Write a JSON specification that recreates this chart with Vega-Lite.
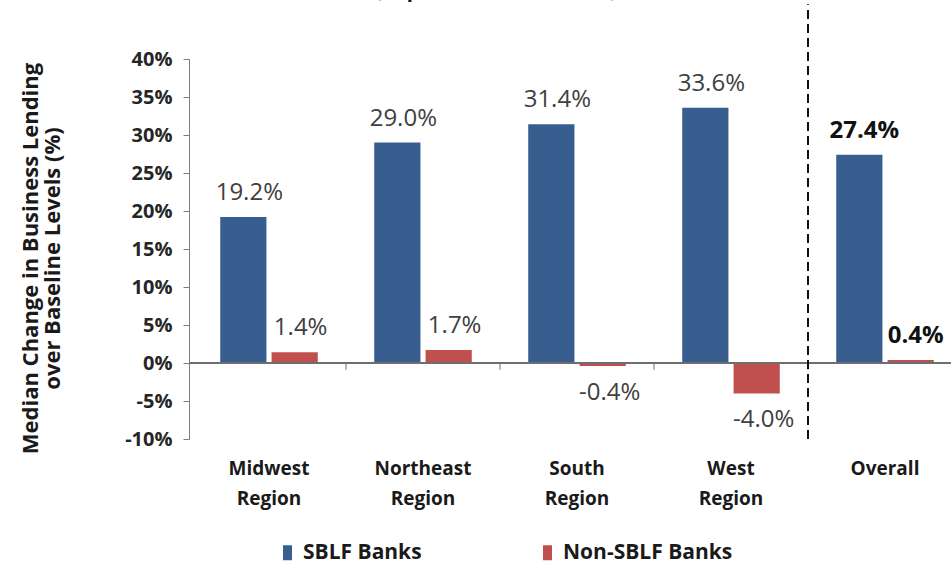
{
  "$schema": "https://vega.github.io/schema/vega-lite/v6.json",
  "autosize": {"type": "none"},
  "padding": {"left": 189, "top": 59, "right": 0, "bottom": 126},
  "width": 762,
  "height": 380,
  "background": "white",
  "title": {
    "text": "(Reported as of 4Q 2011)",
    "fontSize": 20,
    "fontWeight": "bold",
    "font": "Open Sans",
    "color": "#111111",
    "anchor": "middle",
    "dx": -74,
    "offset": 2
  },
  "config": {
    "view": {"stroke": null},
    "font": "Open Sans"
  },
  "data": {
    "values": [
      {"region": "Midwest Region", "series": "SBLF Banks", "value": 19.2},
      {"region": "Midwest Region", "series": "Non-SBLF Banks", "value": 1.4},
      {"region": "Northeast Region", "series": "SBLF Banks", "value": 29.0},
      {"region": "Northeast Region", "series": "Non-SBLF Banks", "value": 1.7},
      {"region": "South Region", "series": "SBLF Banks", "value": 31.4},
      {"region": "South Region", "series": "Non-SBLF Banks", "value": -0.4},
      {"region": "West Region", "series": "SBLF Banks", "value": 33.6},
      {"region": "West Region", "series": "Non-SBLF Banks", "value": -4.0},
      {"region": "Overall", "series": "SBLF Banks", "value": 27.4},
      {"region": "Overall", "series": "Non-SBLF Banks", "value": 0.4}
    ]
  },
  "transform": [
    {"calculate": "replace(format(datum.value, '.1f'), '\u2212', '-') + '%'", "as": "lbl"}
  ],
  "encoding": {
    "x": {
      "field": "region",
      "type": "nominal",
      "sort": null,
      "scale": {"range": [3, 773], "paddingInner": 0, "paddingOuter": 0},
      "axis": {
        "title": null,
        "domain": false,
        "ticks": false,
        "labelAngle": 0,
        "labelExpr": "split(datum.label, ' ')",
        "labelFontSize": 19,
        "labelFontWeight": "bold",
        "labelColor": "#1a1a1a",
        "labelLineHeight": 30,
        "labelPadding": 20
      }
    },
    "y": {
      "field": "value",
      "type": "quantitative",
      "scale": {"domain": [-10, 40], "nice": false, "zero": false},
      "axis": {
        "values": [-10, -5, 0, 5, 10, 15, 20, 25, 30, 35, 40],
        "tickCount": 11,
        "labelExpr": "datum.value + '%'",
        "labelOverlap": false,
        "grid": false,
        "domainColor": "#7f7f7f",
        "tickColor": "#7f7f7f",
        "tickSize": 6,
        "labelFontSize": 20,
        "labelFontWeight": "bold",
        "labelColor": "#262626",
        "labelPadding": 11,
        "title": ["Median Change in Business Lending", "over Baseline Levels (%)"],
        "titleFontSize": 22,
        "titleFontWeight": "bold",
        "titleColor": "#1a1a1a",
        "titleLineHeight": 22,
        "titlePadding": 60,
        "titleY": 199
      }
    },
    "xOffset": {
      "field": "series",
      "type": "nominal",
      "sort": ["SBLF Banks", "Non-SBLF Banks"],
      "scale": {"paddingInner": 0.1, "paddingOuter": 0.55}
    }
  },
  "layer": [
    {
      "mark": {"type": "bar"},
      "encoding": {
        "color": {
          "field": "series",
          "type": "nominal",
          "scale": {"domain": ["SBLF Banks", "Non-SBLF Banks"], "range": ["#375E8F", "#C0504D"]},
          "legend": {
            "title": null,
            "orient": "none",
            "direction": "horizontal",
            "legendX": 88,
            "legendY": 483,
            "padding": 0,
            "symbolType": "M-0.6,-1H0.6V1H-0.6Z",
            "symbolSize": 225,
            "symbolStrokeWidth": 0,
            "labelFontSize": 21,
            "labelFontWeight": "bold",
            "labelColor": "#1a1a1a",
            "labelOffset": 5,
            "labelLimit": 400,
            "columnPadding": 115
          }
        }
      }
    },
    {
      "mark": {"type": "rule", "color": "#6f6f6f", "strokeWidth": 1},
      "encoding": {
        "x": null,
        "xOffset": null,
        "y": {"datum": 0}
      }
    },
    {
      "transform": [
        {"filter": "datum.series == 'SBLF Banks' && datum.region != 'Midwest Region'"}
      ],
      "mark": {"type": "rule", "color": "#6f6f6f", "strokeWidth": 1},
      "encoding": {
        "x": {"field": "region", "type": "nominal", "sort": null, "bandPosition": 0},
        "xOffset": null,
        "y": {"datum": 0},
        "y2": {"datum": -0.9}
      }
    },
    {
      "transform": [
        {"filter": "datum.series == 'SBLF Banks' && datum.region == 'Overall'"}
      ],
      "mark": {"type": "rule", "color": "#111111", "strokeWidth": 2, "strokeDash": [9, 5], "clip": false},
      "encoding": {
        "x": {"field": "region", "type": "nominal", "sort": null, "bandPosition": 0},
        "xOffset": null,
        "y": {"datum": -10},
        "y2": {"datum": 47.2}
      }
    },
    {
      "transform": [
        {"filter": "datum.value >= 0 && datum.region != 'Overall'"}
      ],
      "mark": {"type": "text", "fontSize": 24, "color": "#404040", "baseline": "middle", "dy": -24, "dx": 6},
      "encoding": {
        "text": {"field": "lbl", "type": "nominal"}
      }
    },
    {
      "transform": [
        {"filter": "datum.value < 0"}
      ],
      "mark": {"type": "text", "fontSize": 24, "color": "#404040", "baseline": "middle", "dy": 27, "dx": 7},
      "encoding": {
        "text": {"field": "lbl", "type": "nominal"}
      }
    },
    {
      "transform": [
        {"filter": "datum.region == 'Overall'"}
      ],
      "mark": {"type": "text", "fontSize": 24, "fontWeight": "bold", "color": "#111111", "baseline": "middle", "dy": -24, "dx": 5},
      "encoding": {
        "text": {"field": "lbl", "type": "nominal"}
      }
    }
  ]
}
